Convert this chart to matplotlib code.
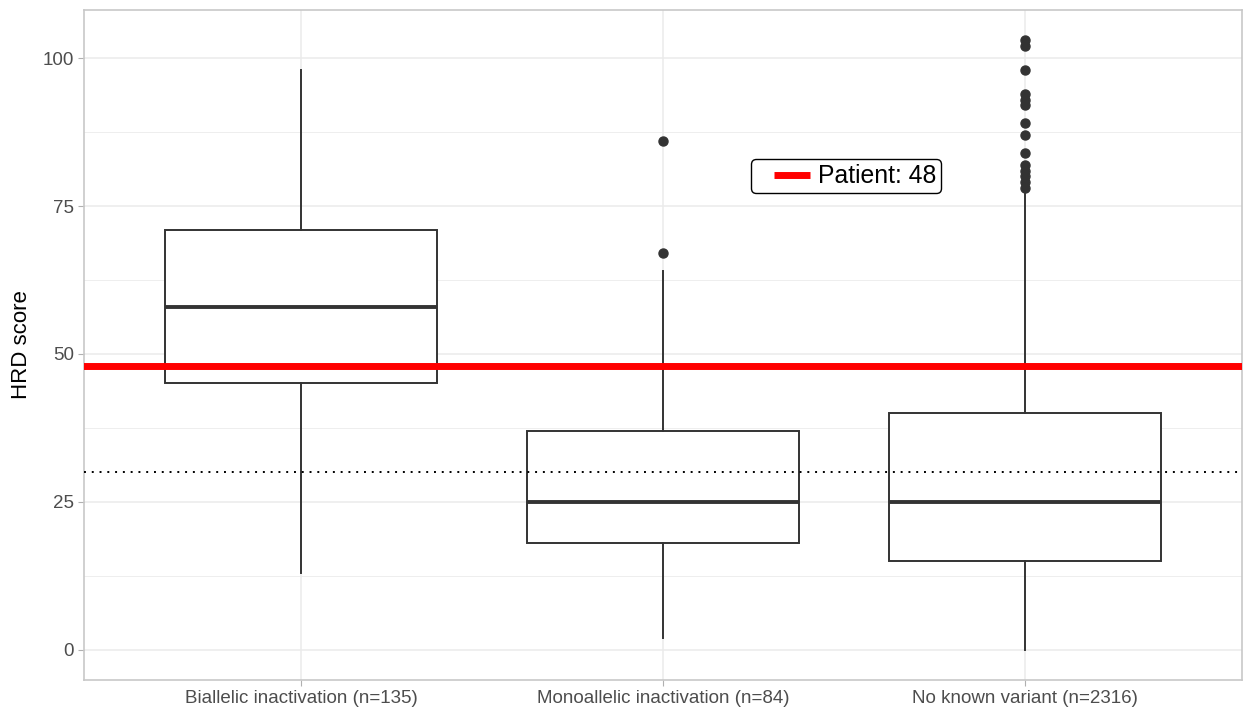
import matplotlib
matplotlib.use("Agg")
import matplotlib.pyplot as plt
from matplotlib.lines import Line2D
from matplotlib.legend_handler import HandlerBase

plt.rcParams['font.family'] = ['Liberation Sans', 'DejaVu Sans']

categories = ["Biallelic inactivation (n=135)",
              "Monoallelic inactivation (n=84)",
              "No known variant (n=2316)"]
whisker_low = [13, 2, 0]
q1 = [45, 18, 15]
median = [58, 25, 25]
q3 = [71, 37, 40]
whisker_high = [98, 64, 77]
outliers = [
    [],
    [86, 67],
    [103, 102, 98, 94, 93, 92, 89, 87, 84, 82, 81, 80, 79, 78],
]
patient_score = 48
threshold = 30
y_ticks = [0, 25, 50, 75, 100]

box_color = "#333333"
grid_color = "#EBEBEB"
border_color = "#C8C8C8"
tick_color = "#4D4D4D"


class InsetLineHandler(HandlerBase):
    """Legend key: a thick line drawn in the right part of the key area."""
    def create_artists(self, legend, orig_handle, xdescent, ydescent,
                       width, height, fontsize, trans):
        y = height / 2.0 - ydescent
        line = Line2D([-xdescent + 0.33 * width, -xdescent + width], [y, y],
                      color=orig_handle.get_color(),
                      linewidth=orig_handle.get_linewidth(),
                      solid_capstyle="butt")
        line.set_transform(trans)
        return [line]


fig = plt.figure(figsize=(12.44, 7.11), dpi=100)
ax = fig.add_axes([0.0675, 0.0436, 0.931, 0.9424])

positions = list(range(1, len(categories) + 1))
stats = []
for i in range(len(categories)):
    stats.append(dict(med=median[i], q1=q1[i], q3=q3[i],
                      whislo=whisker_low[i], whishi=whisker_high[i],
                      fliers=outliers[i]))

ax.bxp(stats, positions=positions, widths=0.75, showfliers=True,
       patch_artist=True, showcaps=False,
       boxprops=dict(facecolor="white", edgecolor=box_color, linewidth=1.4),
       whiskerprops=dict(color=box_color, linewidth=1.4),
       medianprops=dict(color=box_color, linewidth=2.8, solid_capstyle="butt"),
       flierprops=dict(marker="o", markerfacecolor=box_color,
                       markeredgecolor=box_color, markersize=6.5),
       zorder=3)

ax.axhline(threshold, color="black", linestyle=(0, (1, 3)), linewidth=1.4, zorder=4)
ax.axhline(patient_score, color="#FF0000", linewidth=5, zorder=5)

ax.set_xlim(0.4, 3.6)
ax.set_ylim(-5.15, 108.15)
ax.set_xticks(positions)
ax.set_xticklabels(categories)
ax.set_yticks(y_ticks)
ax.set_yticks([12.5, 37.5, 62.5, 87.5], minor=True)

ax.grid(True, which="major", color=grid_color, linewidth=1.1, zorder=0)
ax.grid(True, which="minor", axis="y", color=grid_color, linewidth=0.6, zorder=0)
ax.set_axisbelow(True)

ax.tick_params(axis="both", which="major", colors="#B0B0B0", length=4, width=0.8,
               labelsize=13.5, labelcolor=tick_color, pad=3)
ax.tick_params(axis="y", which="minor", length=0)
for sp in ax.spines.values():
    sp.set_color(border_color)
    sp.set_linewidth(1.2)

ax.set_ylabel("HRD score", fontsize=16, color="black", labelpad=8)

leg_handle = Line2D([], [], color="#FF0000", linewidth=5)
leg = ax.legend([leg_handle], [f"Patient: {patient_score}"],
                handler_map={Line2D: InsetLineHandler()},
                loc="center", bbox_to_anchor=(2.505, 80),
                bbox_transform=ax.transData, fontsize=17.8,
                frameon=True, fancybox=True, framealpha=1,
                edgecolor="black", handlelength=2.2, handletextpad=0.3,
                borderpad=0.2, borderaxespad=0)
leg.get_frame().set_linewidth(1.0)
leg.set_zorder(6)

fig.savefig("out.png", dpi=100)
